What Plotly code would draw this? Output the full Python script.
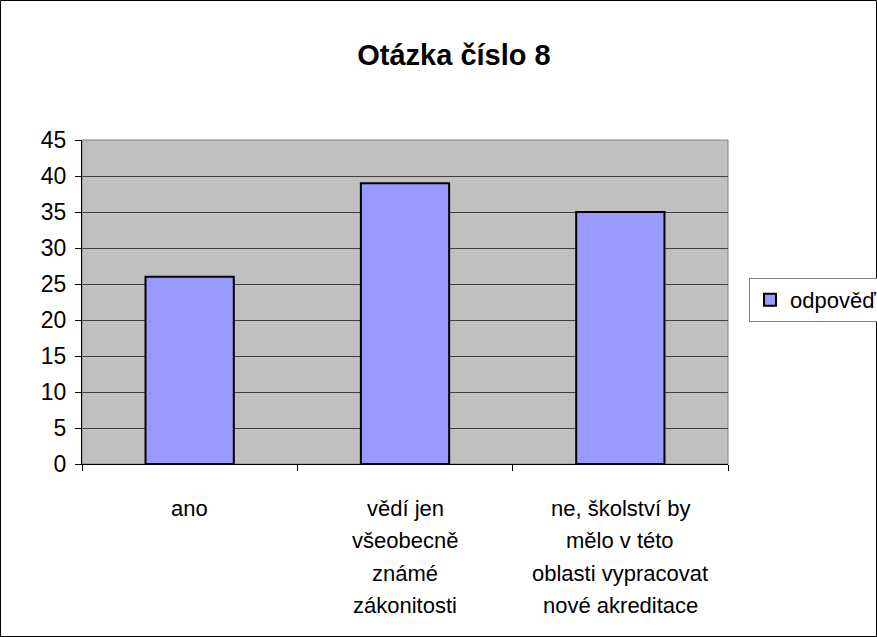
import plotly.graph_objects as go

categories = ["ano", "vědí jen všeobecně známé zákonitosti",
              "ne, školství by mělo v této oblasti vypracovat nové akreditace"]
label_lines = [["ano"],
               ["vědí jen", "všeobecně", "známé", "zákonitosti"],
               ["ne, školství by", "mělo v této", "oblasti vypracovat", "nové akreditace"]]
values = [26, 39, 35]
series_name = "odpověď"
y_ticks = [0, 5, 10, 15, 20, 25, 30, 35, 40, 45]

W, H = 877, 637
L, R, T, B = 82, 877 - 728, 140, 637 - 464
pw, ph = W - L - R, H - T - B
FONT = "Liberation Sans, Arial, sans-serif"

fig = go.Figure()
fig.add_trace(go.Bar(
    x=categories, y=values, name=series_name,
    marker=dict(color="#9999FF", line=dict(color="#000000", width=2)),
    width=0.41, showlegend=True,
))

annotations = []
for cat, lines in zip(categories, label_lines):
    for i, ln in enumerate(lines):
        annotations.append(dict(
            x=cat, xref="x", y=0, yref="paper", text=ln, showarrow=False,
            yanchor="middle", xanchor="center", yshift=-44 - 32.5 * i,
            font=dict(family=FONT, size=22, color="#000000")))

fig.update_layout(
    width=W, height=H,
    margin=dict(l=L, r=R, t=T, b=B, autoexpand=False),
    paper_bgcolor="#FFFFFF", plot_bgcolor="#C0C0C0",
    font=dict(family=FONT, size=22, color="#000000"),
    title=dict(text="<b>Otázka číslo 8</b>", x=454 / W, xanchor="center",
               y=1 - 55 / H, yanchor="middle", xref="container", yref="container",
               font=dict(family=FONT, size=29, color="#000000")),
    xaxis=dict(showticklabels=False, tickson="boundaries", ticks="outside",
               ticklen=6, tickcolor="#000000", showline=True, linecolor="#000000",
               linewidth=1, showgrid=False, zeroline=False),
    yaxis=dict(range=[0, 45], tickvals=y_ticks, ticks="outside", ticklen=6,
               tickcolor="#000000", showline=True, linecolor="#000000", linewidth=1,
               showgrid=True, gridcolor="#404040", gridwidth=1, zeroline=False,
               tickfont=dict(family=FONT, size=23, color="#000000"), ticklabelstandoff=4),
    bargap=0.59,
    legend=dict(x=(749 - L) / pw, xanchor="left", y=(464 - 300) / ph, yanchor="middle",
                bordercolor="#808080", borderwidth=1, bgcolor="#FFFFFF",
                font=dict(family=FONT, size=22, color="#000000"),
                itemwidth=30, tracegroupgap=0),
    annotations=annotations,
    shapes=[
        dict(type="rect", xref="paper", yref="paper", x0=0, x1=1, y0=0, y1=1,
             line=dict(color="#808080", width=1), layer="below"),
        dict(type="rect", xref="paper", yref="paper",
             x0=(0.5 - L) / pw, x1=(876.5 - L) / pw,
             y0=(464 - 636.5) / ph, y1=(464 - 0.5) / ph,
             line=dict(color="#000000", width=1)),
    ],
)

fig.write_html("out.html", config={"displayModeBar": False},
               post_script="document.body.style.margin='0';")
